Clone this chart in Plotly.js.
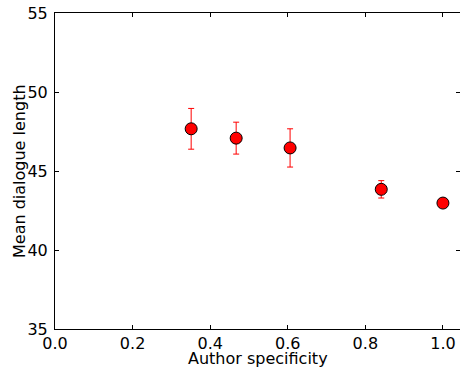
<!DOCTYPE html>
<html>
<head>
<meta charset="utf-8">
<script src="https://cdn.plot.ly/plotly-3.0.1.min.js"></script>
<style>html,body{margin:0;padding:0;background:#fff;}#chart{width:460px;height:368px;}</style>
</head>
<body>
<div id="chart"></div>
<script>
const specificity = [0.351, 0.467, 0.606, 0.841, 1.0];
const meanLength = [47.67, 47.08, 46.46, 43.84, 42.97];
const errorLength = [1.29, 1.01, 1.21, 0.55, 0.0];
const xTicks = [0.0, 0.2, 0.4, 0.6, 0.8, 1.0];
const xTickLabels = ["0.0", "0.2", "0.4", "0.6", "0.8", "1.0"];
const yTicks = [35, 40, 45, 50, 55];
const yTickLabels = ["35", "40", "45", "50", "55"];
const xTitle = "Author specificity";
const yTitle = "Mean dialogue length";

const font = {family: "DejaVu Sans", size: 16, color: "#000"};

Plotly.newPlot("chart", [{
  x: specificity,
  y: meanLength,
  type: "scatter",
  mode: "markers",
  marker: {color: "#ff0000", size: 12, line: {color: "#000", width: 1}},
  error_y: {type: "data", array: errorLength, visible: true, color: "#ff0000", thickness: 1, width: 3}
}], {
  width: 460, height: 368,
  margin: {l: 55, r: 0, t: 13, b: 39, pad: 0},
  paper_bgcolor: "#fff", plot_bgcolor: "#fff",
  showlegend: false,
  font: font,
  xaxis: {
    range: [0, 1.044], tickvals: xTicks, ticktext: xTickLabels,
    showgrid: false, zeroline: false, showline: true, linecolor: "#000", linewidth: 1,
    mirror: "ticks", ticks: "inside", ticklen: 4, tickcolor: "#000", tickfont: font,
    automargin: false
  },
  yaxis: {
    range: [35, 55], tickvals: yTicks, ticktext: yTickLabels,
    showgrid: false, zeroline: false, showline: true, linecolor: "#000", linewidth: 1,
    mirror: "ticks", ticks: "inside", ticklen: 4, tickcolor: "#000", tickfont: font,
    ticklabelstandoff: 3,
    automargin: false
  },
  annotations: [{
    text: xTitle, xref: "paper", yref: "paper", x: 0.5, y: 0,
    xanchor: "center", yanchor: "middle", yshift: -29, showarrow: false, font: font
  }, {
    text: yTitle, xref: "paper", yref: "paper", x: 0, y: 0.5, textangle: -90,
    xanchor: "center", yanchor: "middle", xshift: -36, showarrow: false, font: font
  }]
}, {staticPlot: true, displayModeBar: false});
</script>
</body>
</html>
